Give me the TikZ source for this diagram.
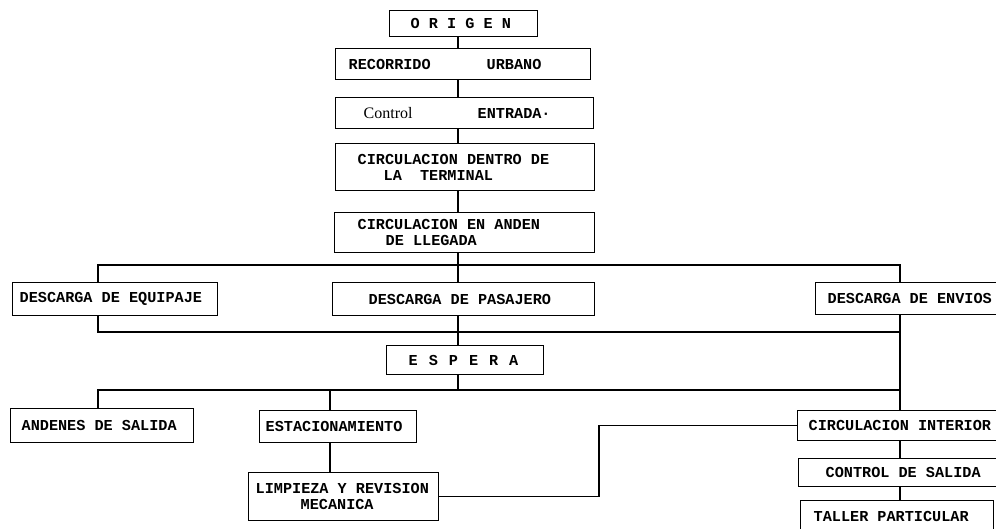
\documentclass[tikz,border=0pt]{standalone}
\usepackage{fontspec}
\setmonofont{Liberation Mono}
\newfontfamily\serifface{Liberation Serif}
\newcommand{\boxfont}{\fontsize{15.2}{16}\selectfont\ttfamily\bfseries}
\begin{document}
\begin{tikzpicture}[x=1pt,y=-1pt,
  box/.style={draw, rectangle, anchor=north west, align=left, inner ysep=0pt,
    line width=1.3pt, font=\boxfont,
    execute at begin node={\spaceskip=0.6em\relax\xspaceskip=0.6em\relax}},
  wire/.style={line width=1.3pt}]
\useasboundingbox (0,0) rectangle (996,529);
\clip (0,0) rectangle (996,529);
% boxes
\node[box, minimum width=148pt, minimum height=26pt, text width=106pt, inner xsep=21pt] (origen) at (389,10) {O R I G E N};
\node[box, minimum width=255pt, minimum height=31pt, text width=229pt, inner xsep=13pt] (recorrido) at (335,48) {RECORRIDO\hspace{56pt}URBANO};
\node[box, minimum width=258pt, minimum height=31pt, text width=202pt, inner xsep=28pt] (control) at (335,97) {\makebox[54pt][l]{\serifface\mdseries\fontsize{16}{17}\selectfont Control}\hspace{60pt}ENTRADA·};
\node[box, minimum width=259pt, minimum height=47pt, text width=215pt, inner xsep=22pt] (dentro) at (335,143) {CIRCULACION DENTRO DE\\\hspace*{26pt}LA\hspace{18.2pt}TERMINAL};
\node[box, minimum width=260pt, minimum height=40pt, text width=214pt, inner xsep=23pt] (anden) at (334,212) {CIRCULACION EN ANDEN\\\hspace*{28pt}DE LLEGADA};
\node[box, minimum width=205pt, minimum height=33pt, text width=191pt, inner xsep=7pt] (equipaje) at (12,282) {DESCARGA DE EQUIPAJE};
\node[box, minimum width=262pt, minimum height=33pt, text width=190pt, inner xsep=36pt] (pasajero) at (332,282) {DESCARGA DE PASAJERO};
\node[box, minimum width=195pt, minimum height=32pt, text width=171pt, inner xsep=12pt] (envios) at (815,282) {DESCARGA DE ENVIOS};
\node[box, minimum width=157pt, minimum height=29pt, text width=113pt, inner xsep=22pt] (espera) at (386,345) {E\hspace{11pt}S\hspace{11pt}P\hspace{11pt}E\hspace{11pt}R\hspace{11pt}A};
\node[box, minimum width=183pt, minimum height=34pt, text width=161pt, inner xsep=11pt] (andenes) at (10,408) {ANDENES DE SALIDA};
\node[box, minimum width=157pt, minimum height=32pt, text width=145pt, inner xsep=6pt] (estac) at (259,410) {ESTACIONAMIENTO};
\node[box, minimum width=190pt, minimum height=48pt, text width=176pt, inner xsep=7pt] (limp) at (248,472) {LIMPIEZA Y REVISION\\\hspace*{45pt}MECANICA};
\node[box, minimum width=213pt, minimum height=30pt, text width=191pt, inner xsep=11pt] (circint) at (797,410) {CIRCULACION INTERIOR};
\node[box, minimum width=212pt, minimum height=28pt, text width=158pt, inner xsep=27pt] (ctrl) at (798,458) {CONTROL DE SALIDA};
\node[box, minimum width=193pt, minimum height=31pt, text width=167pt, inner xsep=13pt] (taller) at (800,500) {TALLER PARTICULAR};
% helper coordinates
\coordinate (sp) at (458,0);
\coordinate (xl) at (98,0);
\coordinate (xr) at (900,0);
\coordinate (xe) at (330,0);
\coordinate (jx) at (599,0);
\coordinate (busA) at (0,265);
\coordinate (busB) at (0,332);
\coordinate (busC) at (0,390);
% connectors
\draw[wire] (origen.south -| sp) -- (recorrido.north -| sp);
\draw[wire] (recorrido.south -| sp) -- (control.north -| sp);
\draw[wire] (control.south -| sp) -- (dentro.north -| sp);
\draw[wire] (dentro.south -| sp) -- (anden.north -| sp);
\draw[wire] (anden.south -| sp) -- (pasajero.north -| sp);
\draw[wire] (equipaje.north -| xl) -- (busA -| xl) -- (busA -| xr) -- (envios.north -| xr);
\draw[wire] (equipaje.south -| xl) -- (busB -| xl) -- (busB -| xr);
\draw[wire] (envios.south -| xr) -- (circint.north -| xr);
\draw[wire] (pasajero.south -| sp) -- (espera.north -| sp);
\draw[wire] (espera.south -| sp) -- (busC -| sp);
\draw[wire] (andenes.north -| xl) -- (busC -| xl) -- (busC -| xr);
\draw[wire] (estac.north -| xe) -- (busC -| xe);
\draw[wire] (estac.south -| xe) -- (limp.north -| xe);
\draw[wire] (limp.east) -- (limp.east -| jx) -- (circint.west -| jx) -- (circint.west);
\draw[wire] (circint.south -| xr) -- (ctrl.north -| xr);
\draw[wire] (ctrl.south -| xr) -- (taller.north -| xr);
\end{tikzpicture}
\end{document}
